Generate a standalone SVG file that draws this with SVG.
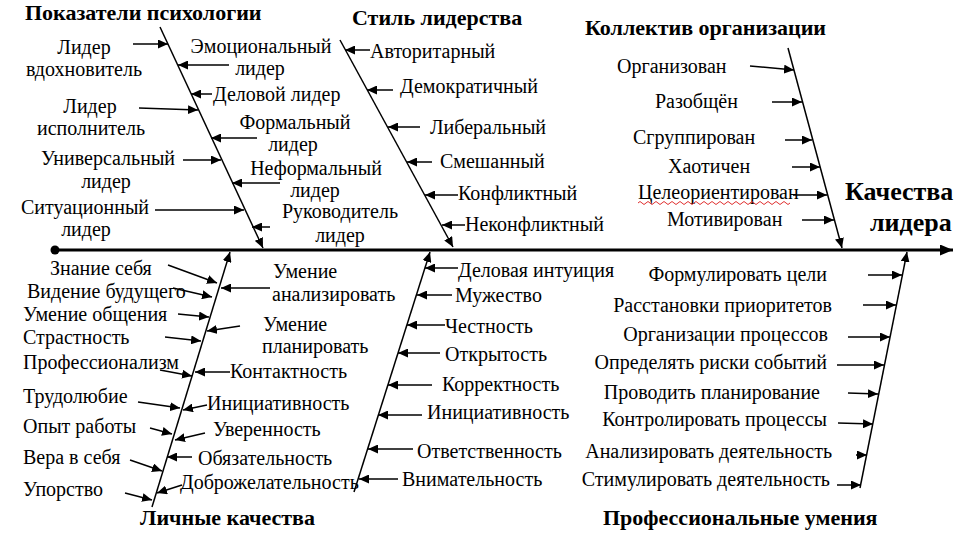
<svg xmlns="http://www.w3.org/2000/svg" width="956" height="539" viewBox="0 0 956 539">
<style>
text{font-family:"Liberation Serif","DejaVu Serif","Times New Roman",serif;fill:#000}
.l{font-size:20px}
.t{font-size:22px;font-weight:bold}
.r{font-size:26px;font-weight:bold}
.m{text-anchor:middle}
.e{text-anchor:end}
.a{stroke:#000;stroke-width:1.5;fill:none;marker-end:url(#ah)}
</style>
<defs>
<marker id="ah" markerUnits="userSpaceOnUse" markerWidth="11" markerHeight="9" refX="10" refY="4.5" orient="auto">
<path d="M0,0 L10,4.5 L0,9 z" fill="#000"/>
</marker>
<marker id="ahb" markerUnits="userSpaceOnUse" markerWidth="14" markerHeight="11" refX="13" refY="5.5" orient="auto">
<path d="M0,0 L13,5.5 L0,11 z" fill="#000"/>
</marker>
</defs>

<g id="connectors">
<line x1="55" y1="250" x2="953" y2="250" stroke="#000" stroke-width="3" marker-end="url(#ahb)"/>
<circle cx="55" cy="250" r="4.5" fill="#000"/>
<line class="a" x1="160" y1="27" x2="263" y2="248"/>
<line class="a" x1="340" y1="40" x2="453" y2="247"/>
<line class="a" x1="788" y1="48" x2="842" y2="248"/>
<line class="a" x1="152" y1="507" x2="230" y2="252"/>
<line class="a" x1="354" y1="492" x2="430" y2="252"/>
<line class="a" x1="860" y1="488" x2="907" y2="252"/>
</g>

<g id="psychology">
<text class="t" x="25" y="20">Показатели психологии</text>
<text class="l m" x="84" y="54">Лидер</text><text class="l m" x="84" y="76">вдохновитель</text>
<line class="a" x1="133" y1="44" x2="168" y2="44"/>
<text class="l m" x="261" y="53">Эмоциональный</text><text class="l m" x="260" y="75">лидер</text>
<line class="a" x1="229" y1="65" x2="178" y2="65"/>
<text class="l" x="213" y="101">Деловой лидер</text>
<line class="a" x1="212" y1="94" x2="191" y2="94"/>
<text class="l m" x="90" y="113">Лидер</text><text class="l m" x="91" y="135">исполнитель</text>
<line class="a" x1="139" y1="108" x2="198" y2="110"/>
<text class="l m" x="295" y="129">Формальный</text><text class="l m" x="293" y="151">лидер</text>
<line class="a" x1="257" y1="138" x2="211" y2="138"/>
<text class="l m" x="108" y="165">Универсальный</text><text class="l m" x="106" y="188">лидер</text>
<line class="a" x1="183" y1="160" x2="221" y2="160"/>
<text class="l m" x="316" y="175">Неформальный</text><text class="l m" x="315" y="197">лидер</text>
<line class="a" x1="280" y1="183" x2="232" y2="183"/>
<text class="l m" x="85" y="214">Ситуационный</text><text class="l m" x="86" y="236">лидер</text>
<line class="a" x1="155" y1="210" x2="244" y2="210"/>
<text class="l m" x="340" y="218">Руководитель</text><text class="l m" x="340" y="242">лидер</text>
<line class="a" x1="270" y1="227" x2="252" y2="227"/>
</g>

<g id="style">
<text class="t" x="352" y="25">Стиль лидерства</text>
<text class="l" x="370" y="58">Авторитарный</text>
<line class="a" x1="370" y1="50" x2="345" y2="50"/>
<text class="l" x="400" y="93">Демократичный</text>
<line class="a" x1="393" y1="90" x2="367" y2="90"/>
<text class="l" x="430" y="134">Либеральный</text>
<line class="a" x1="420" y1="127" x2="388" y2="127"/>
<text class="l" x="440" y="168">Смешанный</text>
<line class="a" x1="432" y1="162" x2="407" y2="162"/>
<text class="l" x="458" y="200">Конфликтный</text>
<line class="a" x1="458" y1="195" x2="425" y2="195"/>
<text class="l" x="465" y="231">Неконфликтный</text>
<line class="a" x1="465" y1="225" x2="442" y2="225"/>
</g>

<g id="collective">
<text class="t" x="585" y="35">Коллектив организации</text>
<text class="l" x="617" y="73">Организован</text>
<line class="a" x1="750" y1="66" x2="794" y2="70"/>
<text class="l" x="655" y="108">Разобщён</text>
<line class="a" x1="772" y1="102" x2="802" y2="102"/>
<text class="l" x="633" y="144">Сгруппирован</text>
<line class="a" x1="785" y1="140" x2="812" y2="140"/>
<text class="l" x="668" y="173">Хаотичен</text>
<line class="a" x1="792" y1="167" x2="820" y2="167"/>
<text class="l" x="638" y="199">Целеориентирован</text>
<path d="M638,203 q2,-3 4,0 t4,0 t4,0 t4,0 t4,0 t4,0 t4,0 t4,0 t4,0 t4,0 t4,0 t4,0 t4,0 t4,0 t4,0 t4,0 t4,0 t4,0 t4,0 t4,0 t4,0 t4,0 t4,0 t4,0 t4,0 t4,0 t4,0 t4,0 t4,0 t4,0 t4,0 t4,0 t4,0 t4,0 t4,0 t4,0 t4,0 t4,0" stroke="#e03030" stroke-width="1" fill="none"/>
<line class="a" x1="793" y1="195" x2="827" y2="195"/>
<text class="l" x="667" y="226">Мотивирован</text>
<line class="a" x1="802" y1="220" x2="834" y2="220"/>
</g>

<g id="result">
<text class="r" x="845" y="200">Качества</text>
<text class="r" x="870" y="231">лидера</text>
</g>

<g id="personal">
<text class="t" x="140" y="525">Личные качества</text>
<text class="l" x="50" y="275">Знание себя</text>
<line class="a" x1="168" y1="265" x2="217" y2="283"/>
<text class="l" x="27" y="298">Видение будущего</text>
<line class="a" x1="173" y1="288" x2="212" y2="297"/>
<text class="l" x="23" y="321">Умение общения</text>
<line class="a" x1="178" y1="314" x2="209" y2="317"/>
<text class="l" x="23" y="344">Страстность</text>
<line class="a" x1="165" y1="337" x2="201" y2="341"/>
<text class="l" x="23" y="369">Профессионализм</text>
<line class="a" x1="160" y1="370" x2="192" y2="376"/>
<text class="l" x="23" y="403">Трудолюбие</text>
<line class="a" x1="138" y1="402" x2="180" y2="408"/>
<text class="l" x="23" y="433">Опыт работы</text>
<line class="a" x1="150" y1="428" x2="172" y2="434"/>
<text class="l" x="23" y="464">Вера в себя</text>
<line class="a" x1="130" y1="460" x2="162" y2="471"/>
<text class="l" x="23" y="496">Упорство</text>
<line class="a" x1="125" y1="493" x2="152" y2="500"/>
<text class="l" x="273" y="278">Умение</text><text class="l" x="272" y="301">анализировать</text>
<line class="a" x1="270" y1="288" x2="221" y2="288"/>
<text class="l" x="263" y="331">Умение</text><text class="l" x="262" y="353">планировать</text>
<line class="a" x1="240" y1="326" x2="207" y2="331"/>
<text class="l" x="230" y="378">Контактность</text>
<line class="a" x1="230" y1="372" x2="195" y2="372"/>
<text class="l" x="207" y="410">Инициативность</text>
<line class="a" x1="207" y1="405" x2="183" y2="410"/>
<text class="l" x="213" y="436">Уверенность</text>
<line class="a" x1="205" y1="433" x2="175" y2="440"/>
<text class="l" x="198" y="465">Обязательность</text>
<line class="a" x1="192" y1="457" x2="167" y2="457"/>
<text class="l" x="180" y="489">Доброжелательность</text>
<line class="a" x1="182" y1="485" x2="157" y2="493"/>
</g>

<g id="personal2">
<text class="l" x="458" y="277">Деловая интуиция</text>
<line class="a" x1="458" y1="268" x2="425" y2="268"/>
<text class="l" x="455" y="302">Мужество</text>
<line class="a" x1="452" y1="295" x2="417" y2="295"/>
<text class="l" x="445" y="333">Честность</text>
<line class="a" x1="445" y1="325" x2="407" y2="325"/>
<text class="l" x="445" y="361">Открытость</text>
<line class="a" x1="440" y1="353" x2="398" y2="353"/>
<text class="l" x="442" y="391">Корректность</text>
<line class="a" x1="432" y1="385" x2="388" y2="385"/>
<text class="l" x="427" y="419">Инициативность</text>
<line class="a" x1="422" y1="415" x2="378" y2="415"/>
<text class="l" x="417" y="458">Ответственность</text>
<line class="a" x1="413" y1="449" x2="368" y2="449"/>
<text class="l" x="402" y="486">Внимательность</text>
<line class="a" x1="398" y1="479" x2="359" y2="479"/>
</g>

<g id="professional">
<text class="t" x="603" y="525">Профессиональные умения</text>
<text class="l e" x="827" y="281">Формулировать цели</text>
<line class="a" x1="868" y1="275" x2="902" y2="275"/>
<text class="l e" x="832" y="312">Расстановки приоритетов</text>
<line class="a" x1="863" y1="305" x2="896" y2="305"/>
<text class="l e" x="828" y="341">Организации процессов</text>
<line class="a" x1="848" y1="337" x2="890" y2="337"/>
<text class="l e" x="827" y="369">Определять риски событий</text>
<line class="a" x1="837" y1="365" x2="884" y2="365"/>
<text class="l e" x="820" y="399">Проводить планирование</text>
<line class="a" x1="848" y1="393" x2="878" y2="394"/>
<text class="l e" x="827" y="426">Контролировать процессы</text>
<line class="a" x1="838" y1="423" x2="873" y2="424"/>
<text class="l e" x="832" y="458">Анализировать деятельность</text>
<line class="a" x1="856" y1="455" x2="867" y2="455"/>
<text class="l e" x="830" y="486">Стимулировать деятельность</text>
<line class="a" x1="837" y1="485" x2="861" y2="485"/>
</g>
</svg>
